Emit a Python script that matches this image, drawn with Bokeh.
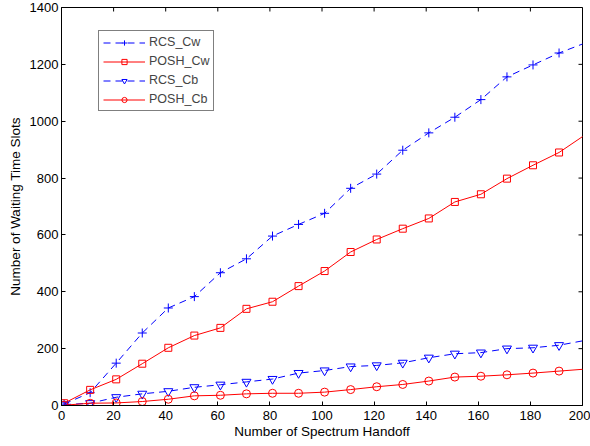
import math
from bokeh.plotting import figure
from bokeh.models import Range1d, FixedTicker, Legend, LegendItem
from bokeh.embed import file_html
from bokeh.resources import INLINE

# ---- data ----
x = [1, 11, 21, 31, 41, 51, 61, 71, 81, 91, 101, 111, 121, 131, 141, 151, 161, 171, 181, 191, 201]
rcs_cw = [5, 45, 149, 255, 343, 383, 467, 516, 596, 637, 676, 764, 814, 898, 959, 1014, 1076, 1156, 1198, 1240, 1275]
posh_cw = [8, 55, 92, 147, 203, 246, 273, 340, 365, 420, 473, 540, 584, 622, 658, 716, 743, 798, 845, 890, 952]
rcs_cb = [3, 8, 29, 41, 50, 64, 73, 83, 93, 114, 123, 137, 141, 150, 168, 182, 186, 200, 203, 212, 229]
posh_cb = [1, 8, 9, 14, 22, 34, 36, 41, 43, 43, 47, 56, 66, 74, 86, 100, 103, 108, 114, 121, 128]
labels = ["RCS_Cw", "POSH_Cw", "RCS_Cb", "POSH_Cb"]
x_ticks = list(range(0, 201, 20))
y_ticks = list(range(0, 1401, 200))

FONT = "Liberation Sans"
BLUE = "#0000ff"
RED = "#ff0000"

p = figure(width=590, height=446, output_backend="svg", toolbar_location=None,
           x_range=Range1d(0, 200), y_range=Range1d(0, 1400),
           min_border_left=61, min_border_right=8, min_border_top=7, min_border_bottom=41)
p.background_fill_color = "white"
p.border_fill_color = "white"
p.outline_line_color = "black"
p.outline_line_width = 1
p.grid.visible = False

for ax in [p.xaxis[0], p.yaxis[0]]:
    ax.major_tick_in = 4
    ax.major_tick_out = 0
    ax.minor_tick_line_color = None
    ax.axis_line_color = "black"
    ax.major_label_text_font = FONT
    ax.major_label_text_font_size = "13px"
    ax.major_label_text_color = "black"
    ax.axis_label_text_font = FONT
    ax.axis_label_text_font_size = "13.5px"
    ax.axis_label_text_font_style = "normal"
    ax.axis_label_text_color = "black"
p.xaxis[0].ticker = FixedTicker(ticks=x_ticks)
p.yaxis[0].ticker = FixedTicker(ticks=y_ticks)
p.xaxis[0].axis_label = "Number of Spectrum Handoff"
p.yaxis[0].axis_label = "Number of Waiting Time Slots"
p.xaxis[0].major_label_standoff = 5
p.xaxis[0].axis_label_standoff = 1
p.yaxis[0].major_label_standoff = 3
p.yaxis[0].axis_label_standoff = 4

# inward ticks on the right and top edges of the box
p.ray(x=[200] * len(y_ticks), y=y_ticks, length=4, length_units="screen",
      angle=math.pi, line_color="black", line_width=1)
p.ray(x=x_ticks, y=[1400] * len(x_ticks), length=4, length_units="screen",
      angle=-math.pi / 2, line_color="black", line_width=1)

n = len(x) - 1
xm = x[:n]
items = []
specs = [
    (rcs_cw, BLUE, "7 5", "cross", 9),
    (posh_cw, RED, "solid", "square", 7),
    (rcs_cb, BLUE, "7 5", "inverted_triangle", 9),
    (posh_cb, RED, "solid", "circle", 8),
]
for lab, (ys, col, dash, mk, sz) in zip(labels, specs):
    l = p.line(x, ys, line_color=col, line_width=1, line_dash=dash)
    s = p.scatter(xm, ys[:n], marker=mk, size=sz, line_color=col, fill_color=None, line_width=1)
    items.append(LegendItem(label=lab, renderers=[l, s]))

leg = Legend(items=items, location=(37, 294))
leg.border_line_color = "black"
leg.border_line_width = 1
leg.background_fill_color = "white"
leg.background_fill_alpha = 1
leg.label_text_font = FONT
leg.label_text_font_size = "12.5px"
leg.glyph_width = 42
leg.glyph_height = 13
leg.label_height = 13
leg.spacing = 5
leg.padding = 4
leg.margin = 0
leg.label_standoff = 4
p.add_layout(leg, "center")

open("out.html", "w").write(file_html(p, INLINE))
